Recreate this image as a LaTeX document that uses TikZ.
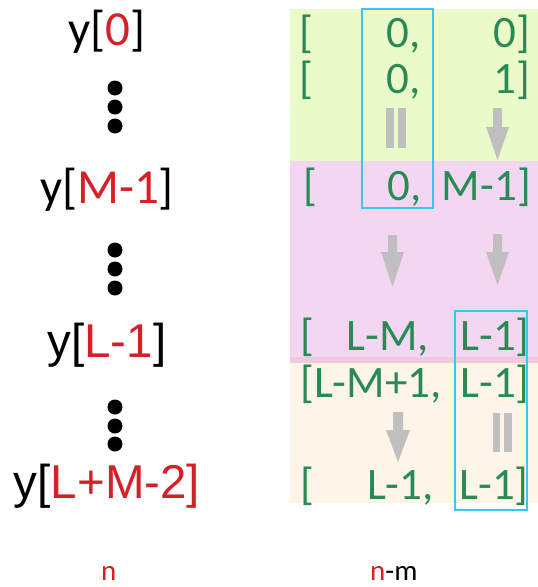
\documentclass[tikz,border=0pt]{standalone}
\usepackage{fontspec}
\setmainfont{Carlito}
\newfontfamily\arialf{Liberation Sans}
\definecolor{greenbg}{HTML}{EBFAC9}
\definecolor{pinkbg}{HTML}{F3D6F1}
\definecolor{orangebg}{HTML}{FEF4E7}
\definecolor{bandbg}{HTML}{F0CADB}
\definecolor{txtgreen}{HTML}{2A8A55}
\definecolor{arrowgray}{HTML}{BFBFBF}
\definecolor{boxblue}{HTML}{35C8F5}
\definecolor{idxred}{RGB}{212,32,39}
\tikzset{
  lbl/.style={inner sep=0pt, anchor=base, font=\fontsize{49}{49}\selectfont},
  lbla/.style={inner sep=0pt, anchor=base, font=\arialf\fontsize{47.5}{47.5}\selectfont},
  gtxtL/.style={inner sep=0pt, anchor=base west, text=txtgreen, font=\fontsize{45}{45}\selectfont},
  gtxtR/.style={inner sep=0pt, anchor=base east, text=txtgreen, font=\fontsize{45}{45}\selectfont},
  dotc/.style={circle, fill=black, inner sep=0pt, minimum size=15pt},
  grayfill/.style={fill=arrowgray, draw=none},
  bluebox/.style={draw=boxblue, line width=1.2pt},
  axislbl/.style={inner sep=0pt, anchor=base west, font=\fontsize{29}{29}\selectfont}
}
\begin{document}
\begin{tikzpicture}[x=1pt,y=-1pt]
\useasboundingbox (0,0) rectangle (538,587);
% background bands
\fill[greenbg] (290,9) rectangle (538,161);
\fill[pinkbg] (290,161) rectangle (538,357);
\fill[bandbg] (290,357) rectangle (538,363);
\fill[orangebg] (290,363) rectangle (538,503);
% left labels
\node[lbl] (y0) at (107,45) {y[\textcolor{idxred}{0}]};
\node[lbl] (yM) at (107,203) {y[\textcolor{idxred}{M-1}]};
\node[lbla] (yL) at (107,357) {y[\textcolor{idxred}{L-1}]};
\node[lbla] (yLM) at (107,498) {y[\textcolor{idxred}{L+M-2]}};
% dots
\foreach \yy [count=\i] in {88,107,126,250,269,288,407,426,444}
  \node[dotc] (d\i) at (115,\yy) {};
% rows
\node[gtxtL] (r1a) at (299,47) {[};
\node[gtxtR] (r1b) at (421,47) {0,};
\node[gtxtR] (r1c) at (530,47) {0]};
\node[gtxtL] (r2a) at (299,93) {[};
\node[gtxtR] (r2b) at (421,93) {0,};
\node[gtxtR] (r2c) at (530,93) {1]};
\node[gtxtL] (r3a) at (303,200) {[};
\node[gtxtR] (r3b) at (422,200) {0,};
\node[gtxtR] (r3c) at (531,200) {M-1]};
\node[gtxtL] (r4a) at (300,350) {[};
\node[gtxtR] (r4b) at (429,350) {L-M,};
\node[gtxtR] (r4c) at (530,350) {L-1]};
\node[gtxtL] (r5a) at (300,397) {[L-M+1,};
\node[gtxtR] (r5c) at (530,397) {L-1]};
\node[gtxtL] (r6a) at (300,499) {[};
\node[gtxtR] (r6b) at (434,499) {L-1,};
\node[gtxtR] (r6c) at (529,499) {L-1]};
% gray arrows
\fill[grayfill] (493,108) -- (502,108) -- (502,127) -- (509,127) -- (497.5,160) -- (486,127) -- (493,127) -- cycle;
\fill[grayfill] (388,235) -- (397,235) -- (397,252) -- (404,252) -- (392.5,287) -- (381,252) -- (388,252) -- cycle;
\fill[grayfill] (493,234) -- (502,234) -- (502,252) -- (509,252) -- (497.5,285) -- (486,252) -- (493,252) -- cycle;
\fill[grayfill] (393,412) -- (403,412) -- (403,430) -- (410,430) -- (398,462) -- (386,430) -- (393,430) -- cycle;
% equal bars
\fill[grayfill] (386,108) rectangle (394,148);
\fill[grayfill] (398,108) rectangle (406,148);
\fill[grayfill] (493,413) rectangle (500,452);
\fill[grayfill] (504,413) rectangle (511.5,452);
% blue boxes
\draw[bluebox] (362,9) rectangle (433,208);
\draw[bluebox] (455,311) rectangle (527,510);
% axis labels
\node[axislbl] (xn) at (101,580) {\textcolor{idxred}{n}};
\node[axislbl] (xnm) at (370,580) {\textcolor{idxred}{n}-m};
\end{tikzpicture}
\end{document}
